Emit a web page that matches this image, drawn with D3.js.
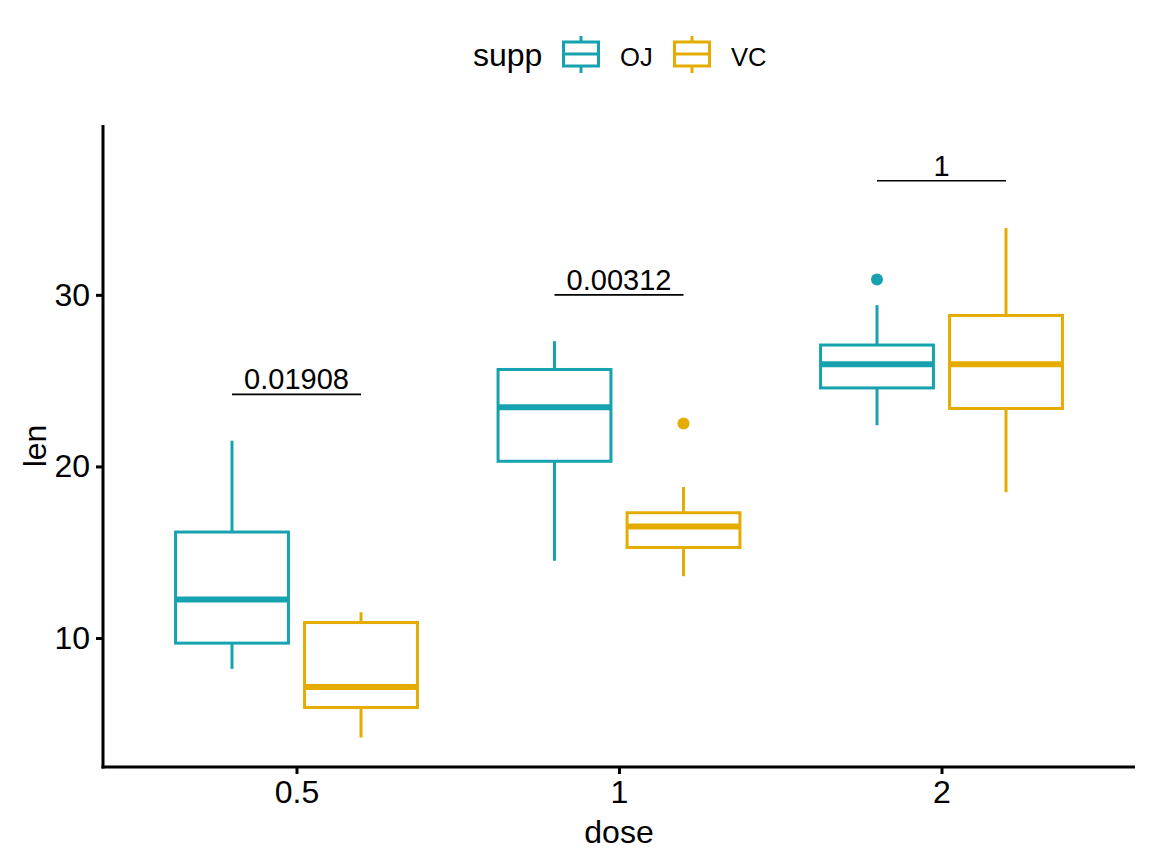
<html>
<head>
  <meta charset="utf-8" />
  <script src="https://cdnjs.cloudflare.com/ajax/libs/d3/7.8.5/d3.min.js"></script>
  <style>
    body { margin: 0; background: #fff; }
    text { font-family: "Liberation Sans", Arial, sans-serif; fill: #000; }
  </style>
</head>
<body>
  <svg width="1152" height="864"></svg>
  <script>
    // ToothGrowth: len by dose, split by supp
    var doses = ["0.5", "1", "2"]
    var supps = ["OJ", "VC"]
    var colors = ["#17A2AF", "#E4AC00"]

    // box stats per supp, in dose order: [lower whisker, q1, median, q3, upper whisker]
    var ojStats = [[8.2, 9.7, 12.25, 16.175, 21.5], [14.5, 20.3, 23.45, 25.65, 27.3], [22.4, 24.575, 25.95, 27.075, 29.4]]
    var vcStats = [[4.2, 5.95, 7.15, 10.9, 11.5], [13.6, 15.275, 16.5, 17.3, 18.8], [18.5, 23.375, 25.95, 28.8, 33.9]]
    var ojOutliers = [[], [], [30.9]]
    var vcOutliers = [[], [22.5], []]

    var pLabels = ["0.01908", "0.00312", "1"]
    var pBracketY = [24.2, 30.0, 36.65]

    var yTicks = [10, 20, 30]
    var yDomain = [2.48, 39.9]

    var svg = d3.select("svg")
    var pLeft = 103, pRight = 1135, pTop = 125, pBottom = 767

    var xScale = d3.scalePoint().domain(doses).range([pLeft, pRight]).padding(0.6)
    var yScale = d3.scaleLinear().domain(yDomain).range([pBottom, pTop])
    var step = xScale.step()
    var dodge = d3.scaleOrdinal().domain(supps).range([-0.2 * step, 0.2 * step])
    var colorScale = d3.scaleOrdinal().domain(supps).range(colors)
    var boxW = 0.35 * step

    var boxes = []
    doses.forEach(function(d, i) {
      boxes.push({ dose: d, supp: "OJ", s: ojStats[i], out: ojOutliers[i] })
      boxes.push({ dose: d, supp: "VC", s: vcStats[i], out: vcOutliers[i] })
    })

    svg.selectAll("g.box")
      .data(boxes)
      .enter()
      .append("g")
        .attr("class", "box")
      .each(function(b) {
        var cx = xScale(b.dose) + dodge(b.supp)
        var c = colorScale(b.supp)
        var el = d3.select(this)
        el.append("line")
          .attr("x1", cx).attr("x2", cx)
          .attr("y1", yScale(b.s[0])).attr("y2", yScale(b.s[1]))
          .attr("stroke", c).attr("stroke-width", 3)
        el.append("line")
          .attr("x1", cx).attr("x2", cx)
          .attr("y1", yScale(b.s[3])).attr("y2", yScale(b.s[4]))
          .attr("stroke", c).attr("stroke-width", 3)
        el.append("rect")
          .attr("x", cx - boxW / 2)
          .attr("y", yScale(b.s[3]))
          .attr("width", boxW)
          .attr("height", yScale(b.s[1]) - yScale(b.s[3]))
          .attr("fill", "#fff")
          .attr("stroke", c).attr("stroke-width", 3)
        el.append("line")
          .attr("x1", cx - boxW / 2).attr("x2", cx + boxW / 2)
          .attr("y1", yScale(b.s[2])).attr("y2", yScale(b.s[2]))
          .attr("stroke", c).attr("stroke-width", 6)
        el.selectAll("circle")
          .data(b.out)
          .enter()
          .append("circle")
            .attr("cx", cx)
            .attr("cy", v => yScale(v))
            .attr("r", 6)
            .attr("fill", c)
      })

    // p-value brackets
    var br = svg.selectAll("g.pval")
      .data(doses)
      .enter()
      .append("g")
        .attr("class", "pval")
    br.append("line")
      .attr("x1", d => xScale(d) + dodge("OJ"))
      .attr("x2", d => xScale(d) + dodge("VC"))
      .attr("y1", (d, i) => yScale(pBracketY[i]))
      .attr("y2", (d, i) => yScale(pBracketY[i]))
      .attr("stroke", "#000").attr("stroke-width", 1.6)
    br.append("text")
      .attr("x", d => xScale(d))
      .attr("y", (d, i) => yScale(pBracketY[i]) - 5)
      .attr("text-anchor", "middle")
      .style("font-size", "29px")
      .text((d, i) => pLabels[i])

    // axes
    var yAxis = svg.append("g")
      .attr("transform", "translate(" + pLeft + ",0)")
      .call(d3.axisLeft(yScale).tickValues(yTicks).tickSize(7).tickPadding(6))
    var xAxis = svg.append("g")
      .attr("transform", "translate(0," + pBottom + ")")
      .call(d3.axisBottom(xScale).tickSize(7).tickPadding(6))
    xAxis.select("path.domain").attr("d", "M" + (pLeft - 1.5) + ",0H" + pRight)
    yAxis.select("path.domain").attr("d", "M0," + (pBottom + 1.5) + "V" + pTop)
    ;[xAxis, yAxis].forEach(function(a) {
      a.select("path.domain").attr("stroke", "#000").attr("stroke-width", 3)
      a.selectAll(".tick line").attr("stroke", "#000").attr("stroke-width", 3)
      a.selectAll(".tick text").attr("fill", "#000")
        .style("font-family", "'Liberation Sans', Arial, sans-serif")
        .style("font-size", "32px")
    })

    svg.append("text")
      .attr("x", (pLeft + pRight) / 2)
      .attr("y", 843)
      .attr("text-anchor", "middle")
      .style("font-size", "32px")
      .text("dose")
    svg.append("text")
      .attr("transform", "translate(46," + (pTop + pBottom) / 2 + ") rotate(-90)")
      .attr("text-anchor", "middle")
      .style("font-size", "32px")
      .text("len")

    // legend
    var legend = svg.append("g")
    legend.append("text")
      .attr("x", 473).attr("y", 66)
      .style("font-size", "32px")
      .text("supp")
    var keyX = d3.scaleOrdinal().domain(supps).range([562, 673])
    var keys = legend.selectAll("g.key")
      .data(supps)
      .enter()
      .append("g")
        .attr("class", "key")
        .attr("transform", d => "translate(" + keyX(d) + ",0)")
    keys.append("line")
      .attr("x1", 19).attr("x2", 19).attr("y1", 36).attr("y2", 73)
      .attr("stroke", d => colorScale(d)).attr("stroke-width", 3)
    keys.append("rect")
      .attr("x", 1.5).attr("y", 42).attr("width", 35).attr("height", 24)
      .attr("fill", "#fff")
      .attr("stroke", d => colorScale(d)).attr("stroke-width", 3)
    keys.append("line")
      .attr("x1", 1.5).attr("x2", 36.5).attr("y1", 54).attr("y2", 54)
      .attr("stroke", d => colorScale(d)).attr("stroke-width", 3)
    keys.append("text")
      .attr("x", 58).attr("y", 66)
      .style("font-size", "25.6px")
      .text(d => d)
  </script>
</body>
</html>
